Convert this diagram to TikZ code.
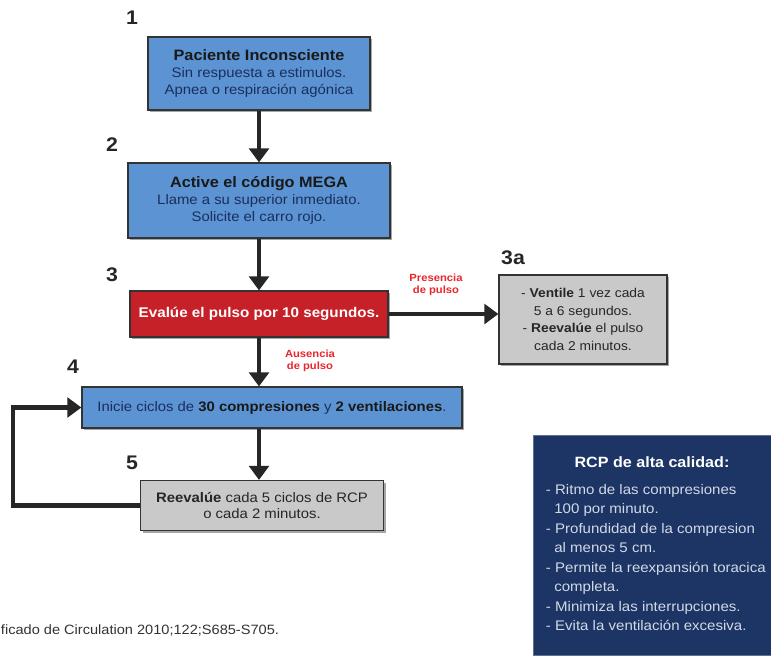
\documentclass[tikz,border=0pt]{standalone}
\usepackage{fontspec}
\setmainfont{Liberation Sans}[FakeStretch=1.08]
\usetikzlibrary{arrows.meta,shadows}
\definecolor{cajaazul}{HTML}{5B93D3}
\definecolor{textoazul}{HTML}{1C2E5C}
\definecolor{cajaroja}{HTML}{C62129}
\definecolor{cajagris}{HTML}{C9C9C9}
\definecolor{cajamarino}{HTML}{1C3564}
\definecolor{textomarino}{HTML}{D3D9E6}
\definecolor{rojonota}{HTML}{E8262C}
\begin{document}
\begin{tikzpicture}[x=0.025cm, y=-0.025cm,
	caja/.style={draw=black!80, line width=0.8pt, align=center, inner sep=2pt,
		drop shadow={shadow xshift=1.5pt, shadow yshift=-1.5pt, opacity=0.7},
		font=\fontsize{9.8}{12}\selectfont},
	azul/.style={caja, fill=cajaazul, text=textoazul},
	gris/.style={caja, fill=cajagris, text=black!85},
	paso/.style={font=\fontsize{14}{14}\selectfont\bfseries, text=black!85},
	flecha/.style={line width=3pt, draw=black!85, -{Triangle[length=10pt,width=14pt]}},
	nota/.style={font=\fontsize{7.4}{8.8}\selectfont\bfseries, text=rojonota, align=center}]
	\useasboundingbox (0,0) rectangle (771,660);
	
	% Step numbers
	\node[paso] (n1) at (132,18) {1};
	\node[paso] (n2) at (112,145) {2};
	\node[paso] (n3) at (112,275) {3};
	\node[paso] (n3a) at (513,258) {3a};
	\node[paso] (n4) at (73,367) {4};
	\node[paso] (n5) at (132,463) {5};
	
	% Main flow
	\node[azul, minimum width=5.55cm, minimum height=1.825cm] (pac) at (259,73.5)
		{\textcolor{black!90}{\fontsize{10.7}{12}\selectfont\bfseries Paciente Inconsciente}\\Sin respuesta a estimulos.\\Apnea o respiración agónica};
	\node[azul, minimum width=6.55cm, minimum height=1.875cm] (mega) at (259,200.5)
		{\textcolor{black!90}{\fontsize{10.7}{12}\selectfont\bfseries Active el código MEGA}\\Llame a su superior inmediato.\\Solicite el carro rojo.};
	\node[caja, fill=cajaroja, text=white, minimum width=6.45cm, minimum height=1.15cm, font=\fontsize{10}{12}\selectfont] (pulso) at (259,314)
		{\bfseries Evalúe el pulso por 10 segundos.};
	\node[azul, minimum width=9.5cm, minimum height=1.025cm] (ciclos) at (272,407.5)
		{Inicie ciclos de \textcolor{black!90}{\bfseries 30 compresiones} y \textcolor{black!90}{\bfseries 2 ventilaciones}.};
	\node[gris, minimum width=6.075cm, minimum height=1.25cm] (reev) at (262,505.5)
		{\textbf{Reevalúe} cada 5 ciclos de RCP\\o cada 2 minutos.};
	
	% Pulse present
	\node[gris, minimum width=4.2cm, minimum height=2.225cm, font=\fontsize{9.1}{12.5}\selectfont] (vent) at (583,319.5)
		{- \textbf{Ventile} 1 vez cada\\5 a 6 segundos.\\- \textbf{Reevalúe} el pulso\\cada 2 minutos.};
	
	% Connectors
	\draw[flecha] (pac.south -| mega.north) -- (mega.north);
	\draw[flecha] (mega.south) -- (pulso.north);
	\draw[flecha] (pulso.east) -- (pulso.east -| vent.west);
	\draw[flecha] (pulso.south) -- (pulso.south |- ciclos.north);
	\draw[flecha] (ciclos.south -| pulso.south) -- (pulso.south |- reev.north);
	\coordinate (vuelta) at (13,0);
	\draw[flecha] (reev.west) -- (reev.west -| vuelta) |- (ciclos.west);
	
	% Branch labels
	\node[nota] (presencia) at (436,285) {Presencia\\de pulso};
	\node[nota] (ausencia) at (310,361) {Ausencia\\de pulso};
	
	% High quality CPR
	\node[fill=cajamarino, draw=cajamarino!70!white, minimum width=5.95cm, minimum height=5.5cm] (calidad) at (652,545) {};
	\node[text=white, font=\fontsize{10.6}{12}\selectfont\bfseries] (titulo) at (652,462) {RCP de alta calidad:};
	\node[text=textomarino, anchor=north west, align=left, font=\fontsize{9.9}{13.9}\selectfont] (lista) at (541,479)
		{- Ritmo de las compresiones\\
		\hspace*{0.6em}100 por minuto.\\
		- Profundidad de la compresion\\
		\hspace*{0.6em}al menos 5 cm.\\
		- Permite la reexpansión toracica\\
		\hspace*{0.6em}completa.\\
		- Minimiza las interrupciones.\\
		- Evita la ventilación excesiva.};
	
	% Source
	\node[anchor=west, text=black!80, font=\fontsize{9.6}{10}\selectfont] (fuente) at (-4,630) {ficado de Circulation 2010;122;S685-S705.};
\end{tikzpicture}
\end{document}
